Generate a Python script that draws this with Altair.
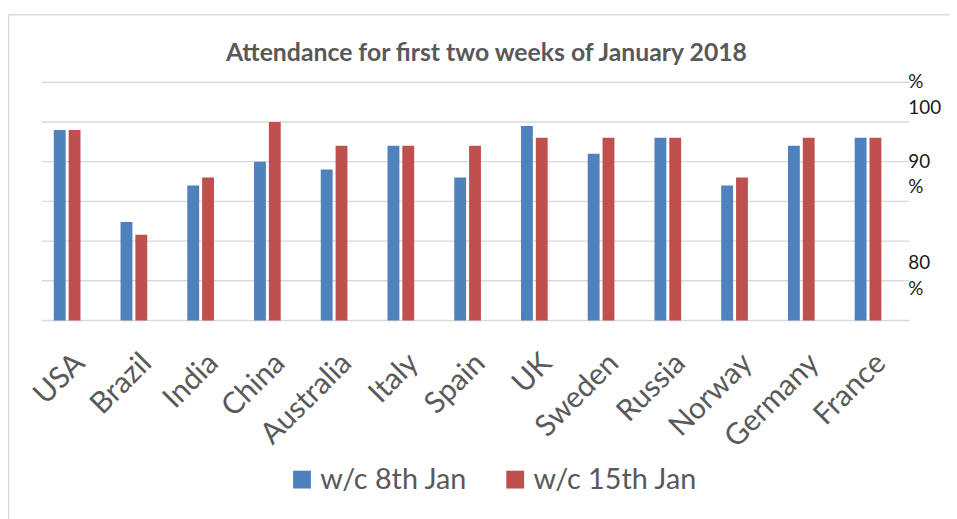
import altair as alt
import pandas as pd

countries = ["USA", "Brazil", "India", "China", "Australia", "Italy", "Spain",
             "UK", "Sweden", "Russia", "Norway", "Germany", "France"]
week1 = [94, 82.4, 87, 90, 89, 92, 88, 94.5, 91, 93, 87, 92, 93]
week2 = [94, 80.8, 88, 95, 92, 92, 92, 93, 93, 93, 88, 93, 93]
series = ["w/c 8th Jan", "w/c 15th Jan"]
colors = ["#4f81bd", "#c0504d"]
grid_values = [70, 75, 80, 85, 90, 95, 100]
ylab_text = ["%", "100", "90", "%", "80", "%"]
ylab_pos = [100, 96.7, 90, 86.8, 77.2, 74.0]

rows = []
for c, a, b in zip(countries, week1, week2):
    rows.append({"country": c, "week": series[0], "value": a})
    rows.append({"country": c, "week": series[1], "value": b})
df = pd.DataFrame(rows)

yscale = alt.Scale(domain=[70, 100], zero=False, nice=False)
FONT = "Lato"

grid = alt.Chart(pd.DataFrame({"g": grid_values})).mark_rule(
    color="#d9d9d9", strokeWidth=1.4
).encode(
    y=alt.Y("g:Q", scale=yscale, axis=None),
    x=alt.value(8),
    x2=alt.value(883),
)

bars = alt.Chart(df).mark_bar().encode(
    x=alt.X("country:N", sort=countries, title=None,
            scale=alt.Scale(paddingInner=0.6, paddingOuter=0.3),
            axis=alt.Axis(labelAngle=-45, labelAlign="right", labelBaseline="middle",
                          labelFont=FONT, labelFontSize=30, labelColor="#595959",
                          ticks=False, domain=False, grid=False,
                          labelPadding=38, labelOffset=13, labelFlush=False,
                          labelOverlap=False, labelLimit=400)),
    xOffset=alt.XOffset("week:N", sort=series,
                        scale=alt.Scale(paddingInner=0.2, paddingOuter=0)),
    y=alt.Y("value:Q", scale=yscale, axis=None),
    y2=alt.datum(70),
    color=alt.Color("week:N", sort=series,
                    scale=alt.Scale(domain=series, range=colors),
                    legend=alt.Legend(title=None, orient="none", direction="horizontal",
                                      legendX=256, legendY=386, padding=0,
                                      symbolType="square", symbolSize=324,
                                      symbolStrokeWidth=0, symbolOpacity=1,
                                      labelFont=FONT, labelFontSize=29,
                                      labelColor="#595959", labelOffset=4,
                                      labelLimit=400, columnPadding=33)),
)

ylabels = alt.Chart(pd.DataFrame({"t": ylab_text, "p": ylab_pos})).mark_text(
    align="left", baseline="middle", font=FONT, fontSize=19, color="#1a1a1a"
).encode(
    y=alt.Y("p:Q", scale=yscale, axis=None),
    x=alt.value(882),
    text="t:N",
)

border_left = alt.Chart(pd.DataFrame({"a": [0]})).mark_rule(
    color="#d9d9d9", strokeWidth=1.5
).encode(x=alt.value(-25.5), y=alt.value(-68), y2=alt.value(460))

border_top = alt.Chart(pd.DataFrame({"a": [0]})).mark_rule(
    color="#d9d9d9", strokeWidth=1.5
).encode(x=alt.value(-25.5), x2=alt.value(940), y=alt.value(-68))

chart = alt.layer(grid, bars, ylabels, border_left, border_top).properties(
    width=875,
    height=240.3,
    background="white",
    title=alt.TitleParams(
        "Attendance for first two weeks of January 2018",
        font=FONT, fontSize=25, fontWeight="bold", color="#595959",
        anchor="middle", frame="group", baseline="alphabetic", offset=-72, dx=19,
    ),
    autosize=alt.AutoSizeParams(type="none"),
    padding={"left": 26, "top": 72.7, "right": 48, "bottom": 198},
).configure_view(strokeWidth=0, stroke="transparent")

chart.save("out.html", embed_options={"renderer": "svg", "actions": False})
